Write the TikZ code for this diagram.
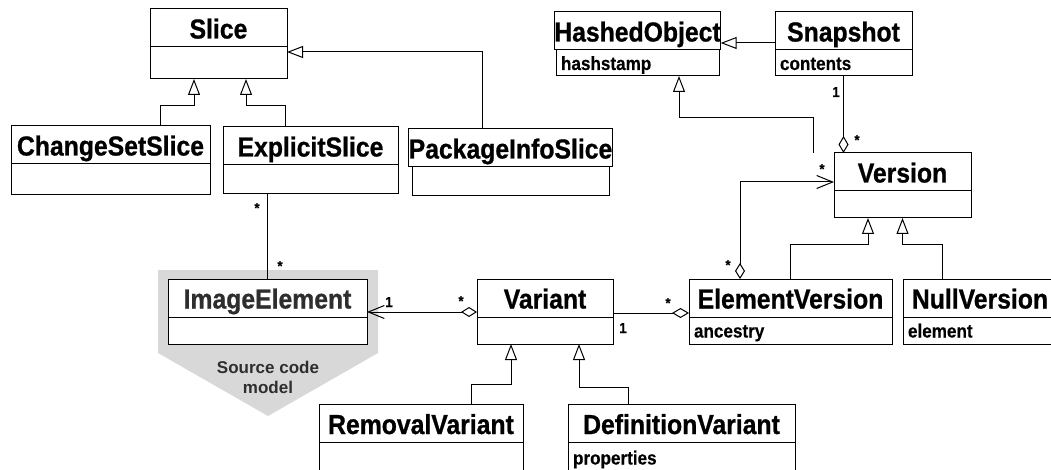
\documentclass[tikz,border=0pt]{standalone}
\usepackage{fontspec}
\setmainfont{Liberation Sans}
\newfontfamily\headfam{Liberation Sans Bold}[FakeStretch=0.9, FakeBold=0.8]
\newfontfamily\bodyfam{Liberation Sans Bold}[FakeStretch=0.9, FakeBold=0.3]
\usetikzlibrary{arrows.meta,positioning}
\newcommand\headfont{\fontsize{27.5}{30}\selectfont\headfam}
\newcommand\attrfont{\fontsize{19}{22}\selectfont\bodyfam}
\newcommand\multfont{\fontsize{14.5}{16}\selectfont\bodyfam}
\definecolor{modelgray}{HTML}{D8D8D8}
\definecolor{modeltext}{HTML}{2E2E2E}
\tikzset{
  box/.style={draw, line width=1pt, fill=white, inner sep=0pt, outer sep=0pt},
  head/.style={box, minimum width=#1, minimum height=38pt, text height=21pt, text depth=0pt, font=\headfont},
  body/.style 2 args={box, text width=#1, minimum height=#2, inner xsep=5pt, text height=14pt, text depth=0pt, align=left, font=\attrfont},
  mult/.style={font=\multfont, inner sep=0pt, anchor=base},
  inherit/.style={line width=1pt, -{Triangle[open, length=16pt, width=12pt]}},
  aggr/.style={line width=1pt, {Diamond[open, length=17pt, width=10pt]}-},
  aggnav/.style={line width=1pt, {Diamond[open, length=16pt, width=10pt]}-{Straight Barb[length=16pt, width=13pt]}},
}
\begin{document}
\begin{tikzpicture}[x=1pt, y=-1pt]
  \useasboundingbox (0,0) rectangle (1051,470);
  \clip (0,0) rectangle (1051,470);
  \fill[modelgray] (158,270) -- (378,270) -- (378,353) -- (268,416) -- (158,353) -- cycle;
  \node[head=137pt] (sliceH) at (218.5,28) {Slice};
  \node[body={127pt}{32pt}, below=0pt of sliceH] (sliceB) {};
  \node[head=199pt] (cssH) at (110.5,145) {ChangeSetSlice};
  \node[body={189pt}{31pt}, below=0pt of cssH] (cssB) {};
  \node[head=175pt] (esH) at (310.5,146) {ExplicitSlice};
  \node[body={165pt}{29pt}, below=0pt of esH] (esB) {};
  \node[head=197pt] (pisH) at (510.5,148) {PackageInfoSlice};
  \node[body={187pt}{29pt}, below=0pt of pisH] (pisB) {};
  \node[head=163pt] (hashH) at (637.5,31) {HashedObject};
  \node[body={153pt}{26pt}, below=0pt of hashH] (hashB) {hashstamp};
  \node[head=137pt] (snapH) at (843.5,31) {Snapshot};
  \node[body={127pt}{26pt}, below=0pt of snapH] (snapB) {contents};
  \node[head=137pt] (verH) at (902.5,172) {Version};
  \node[body={127pt}{27pt}, below=0pt of verH] (verB) {};
  \node[head=203pt] (evH) at (790.5,298) {ElementVersion};
  \node[body={193pt}{27pt}, below=0pt of evH] (evB) {ancestry};
  \node[head=154pt] (nvH) at (980,298) {NullVersion};
  \node[body={144pt}{27pt}, below=0pt of nvH] (nvB) {element};
  \node[head=136pt] (varH) at (545,298) {Variant};
  \node[body={126pt}{27pt}, below=0pt of varH] (varB) {};
  \node[head=199pt, text=modeltext] (ieH) at (267.5,298) {ImageElement};
  \node[body={189pt}{27pt}, below=0pt of ieH] (ieB) {};
  \node[head=204pt] (rvH) at (421,423.5) {RemovalVariant};
  \node[body={194pt}{30pt}, below=0pt of rvH] (rvB) {};
  \node[head=227pt] (dvH) at (681.5,423.5) {DefinitionVariant};
  \node[body={217pt}{30pt}, below=0pt of dvH] (dvB) {properties};
  \node[font=\fontsize{17}{20}\selectfont\bfseries, text=modeltext, align=center] (model) at (268,377) {Source code\\model};
  \draw[inherit] ([xshift=49.5pt]cssH.north) -- ++(0,-20) -| ([xshift=-24.5pt]sliceB.south);
  \draw[inherit] ([xshift=-25.5pt]esH.north) -- ++(0,-21) -| ([xshift=27.5pt]sliceB.south);
  \draw[inherit] ([xshift=-28.5pt]pisH.north) |- ([yshift=11pt]sliceB.east);
  \draw[inherit] ([yshift=-12pt]snapH.west) -- ([yshift=-12pt]hashH.east);
  \draw[inherit] ([xshift=-89.5pt]verH.north) -- ++(0,-35) -| ([xshift=41.5pt]hashB.south);
  \draw[aggr] (verH.north -| snapB.south) -- (snapB.south);
  \draw[aggnav] ([xshift=-50.5pt]evH.north) |- ([yshift=-10pt]verH.west);
  \draw[inherit] (evH.north) -- ++(0,-34) -| ([xshift=-34.5pt]verB.south);
  \draw[inherit] ([xshift=-38pt]nvH.north) -- ++(0,-34) -| (verB.south);
  \draw[aggr] ([yshift=-15pt]evH.west) -- ([yshift=-15pt]varH.east);
  \draw[aggnav] ([yshift=-14pt]varH.west) -- ([yshift=-14pt]ieH.east);
  \draw[line width=1pt] (ieH.north) -- ([xshift=-43pt]esB.south);
  \draw[inherit] ([xshift=50pt]rvH.north) -- ++(0,-20) -| ([xshift=-34pt]varB.south);
  \draw[inherit] ([xshift=-53.5pt]dvH.north) -- ++(0,-17) -| ([xshift=34pt]varB.south);
  \node[mult] (m1) at (257,213) {*};
  \node[mult] (m2) at (280,271) {*};
  \node[mult] (m3) at (389,307) {1};
  \node[mult] (m4) at (461,306) {*};
  \node[mult] (m5) at (623,333) {1};
  \node[mult] (m6) at (668,308) {*};
  \node[mult] (m7) at (728,270) {*};
  \node[mult] (m8) at (822,174) {*};
  \node[mult] (m9) at (836,97) {1};
  \node[mult] (m10) at (857,145) {*};
\end{tikzpicture}
\end{document}
